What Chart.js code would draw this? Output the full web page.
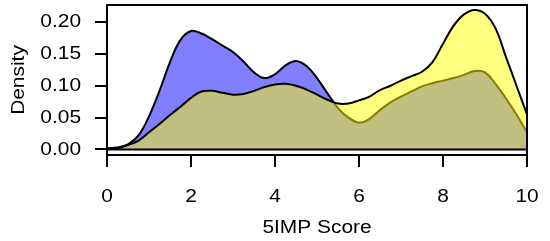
<!DOCTYPE html>
<html>
<head>
<meta charset="utf-8">
<script src="https://cdn.jsdelivr.net/npm/chart.js@4.4.1/dist/chart.umd.min.js"></script>
<style>
html, body { margin: 0; padding: 0; background: #fff; }
</style>
</head>
<body>
<canvas id="densityChart" width="550" height="241"></canvas>
<script>
// 5IMP score grid (x), step 0.25
const scores = [0, 0.25, 0.5, 0.75, 1, 1.25, 1.5, 1.75, 2, 2.25, 2.5, 2.75, 3, 3.25, 3.5, 3.75,
   4, 4.25, 4.5, 4.75, 5, 5.25, 5.5, 5.75, 6, 6.25, 6.5, 6.75, 7, 7.25, 7.5, 7.75,
   8, 8.25, 8.5, 8.75, 9, 9.25, 9.5, 9.75, 10];

// blue group density
const blueDensity = [0.002, 0.003, 0.008, 0.022, 0.052, 0.092, 0.137, 0.172, 0.186, 0.182, 0.173, 0.163,
   0.153, 0.138, 0.121, 0.112, 0.118, 0.132, 0.139, 0.131, 0.112, 0.088, 0.065, 0.050,
   0.042, 0.048, 0.062, 0.074, 0.083, 0.091, 0.099, 0.104, 0.108, 0.112, 0.117, 0.123,
   0.121, 0.103, 0.080, 0.055, 0.027];

// yellow group density
const yellowDensity = [0.001, 0.002, 0.007, 0.014, 0.027, 0.040, 0.054, 0.067, 0.081, 0.091, 0.092, 0.089,
   0.086, 0.087, 0.092, 0.098, 0.102, 0.103, 0.100, 0.094, 0.086, 0.078, 0.072, 0.072,
   0.077, 0.083, 0.093, 0.100, 0.108, 0.115, 0.122, 0.137, 0.166, 0.194, 0.212, 0.219,
   0.213, 0.190, 0.145, 0.100, 0.055];

const xTicks = [0, 2, 4, 6, 8, 10];
const yTicks = [0, 0.05, 0.10, 0.15, 0.20];

const toPoints = (ys) => scores.map((x, i) => ({ x: x, y: ys[i] }));

const fontSpec = { family: 'Liberation Sans', size: 19 };

// the reference text is a little wider than Arial: stretch each text draw sideways
const stretchPlugin = {
   id: 'stretchPlugin',
   beforeInit(chart) {
      const c = chart.ctx;
      const orig = c.fillText.bind(c);
      c.fillText = function (text, x, y) {
         c.save();
         c.translate(x, y);
         c.scale(1.1, 1);
         orig(text, 0, 0);
         c.restore();
      };
   }
};

// draws the box round the plot (like R's box())
const boxPlugin = {
   id: 'boxPlugin',
   afterDatasetsDraw(chart) {
      const a = chart.chartArea;
      const ctx = chart.ctx;
      ctx.save();
      ctx.strokeStyle = '#000';
      ctx.lineWidth = 2;
      ctx.strokeRect(a.left, a.top, a.right - a.left, a.bottom - a.top);
      ctx.restore();
   }
};

const ctx = document.getElementById('densityChart').getContext('2d');
const densityChart = new Chart(ctx, {
   type: 'line',
   data: {
      datasets: [
         {
            label: 'baseline',
            data: toPoints(scores.map(() => 0)),
            borderColor: '#000',
            borderWidth: 2,
            pointRadius: 0,
            fill: false,
            order: 0
         },
         {
            label: 'yellow',
            data: toPoints(yellowDensity),
            borderColor: '#000',
            borderWidth: 2,
            backgroundColor: 'rgba(255,255,0,0.5)',
            pointRadius: 0,
            tension: 0.4,
            fill: 'origin',
            order: 1
         },
         {
            label: 'blue',
            data: toPoints(blueDensity),
            borderColor: '#000',
            borderWidth: 2,
            backgroundColor: 'rgba(0,0,255,0.5)',
            pointRadius: 0,
            tension: 0.4,
            fill: 'origin',
            order: 2
         }
      ]
   },
   options: {
      responsive: false,
      animation: false,
      layout: { padding: { top: 5, right: 23, left: 0, bottom: 0 } },
      plugins: {
         legend: { display: false },
         tooltip: { enabled: false }
      },
      scales: {
         x: {
            type: 'linear',
            min: 0,
            max: 10,
            afterFit: (scale) => { scale.height = 86; scale.paddingLeft = 0; scale.paddingRight = 0; },
            afterBuildTicks: (scale) => { scale.ticks = xTicks.map(v => ({ value: v })); },
            border: { display: false },
            grid: { drawOnChartArea: false, drawTicks: true, tickLength: 12, color: '#000', lineWidth: 2 },
            ticks: { color: '#000', font: fontSpec, padding: 18, maxRotation: 0, autoSkip: false },
            title: { display: true, text: '5IMP Score', color: '#000', font: fontSpec, padding: { top: 0, bottom: 1.5 } }
         },
         y: {
            min: -0.0087,
            max: 0.2267,
            afterFit: (scale) => { scale.width = 107; scale.paddingTop = 0; scale.paddingBottom = 0; },
            afterBuildTicks: (scale) => { scale.ticks = yTicks.map(v => ({ value: v })); },
            border: { display: false },
            grid: { drawOnChartArea: false, drawTicks: true, tickLength: 12, color: '#000', lineWidth: 2 },
            ticks: { color: '#000', font: fontSpec, padding: 14, callback: (v) => v.toFixed(2) },
            title: { display: true, text: 'Density', color: '#000', font: fontSpec, padding: { top: 7, bottom: 0 } }
         }
      }
   },
   plugins: [stretchPlugin, boxPlugin]
});
</script>
</body>
</html>
